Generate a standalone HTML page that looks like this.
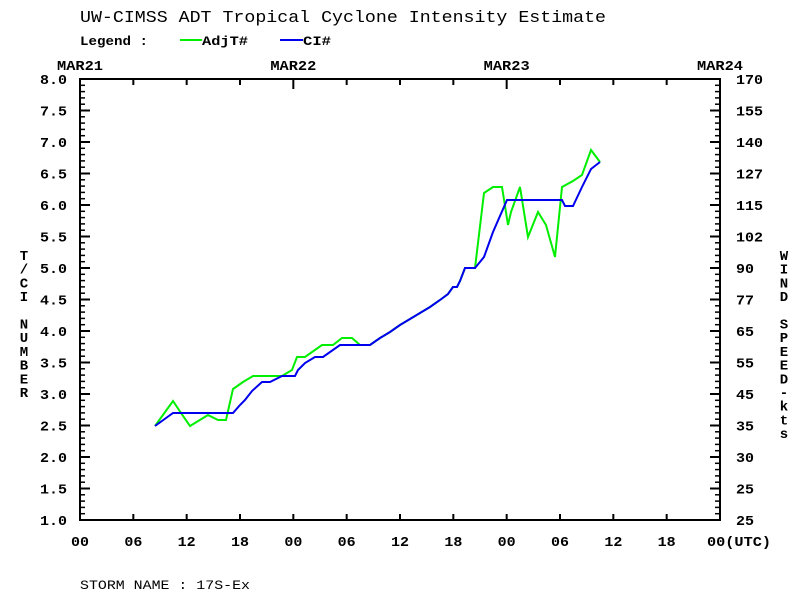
<!DOCTYPE html>
<html><head><meta charset="utf-8"><style>
html,body{margin:0;padding:0;background:#fff;width:800px;height:600px;overflow:hidden}
svg text{font-family:"Liberation Mono","DejaVu Sans Mono",monospace;fill:#000}
#lab text{font-weight:bold}
</style></head><body>
<svg id="s" width="800" height="600" viewBox="0 0 800 600" xmlns="http://www.w3.org/2000/svg">
<rect width="800" height="600" fill="#fff"/>
<text x="80" y="22" font-size="17" textLength="526" lengthAdjust="spacingAndGlyphs">UW-CIMSS ADT Tropical Cyclone Intensity Estimate</text>
<text x="80" y="45" font-size="13" font-weight="bold" textLength="68" lengthAdjust="spacingAndGlyphs">Legend :</text>
<line x1="180" y1="40" x2="202" y2="40" stroke="#00ee00" stroke-width="2"/>
<text x="202" y="45" font-size="13" font-weight="bold" textLength="46" lengthAdjust="spacingAndGlyphs">AdjT#</text>
<line x1="280" y1="40" x2="303" y2="40" stroke="#0000ee" stroke-width="2"/>
<text x="303" y="45" font-size="13" font-weight="bold" textLength="28" lengthAdjust="spacingAndGlyphs">CI#</text>
<text x="80" y="589" font-size="13" textLength="170" lengthAdjust="spacingAndGlyphs">STORM NAME : 17S-Ex</text>
<g id="ax" stroke="#000" stroke-width="2" fill="none"></g>
<g id="lab" font-size="14"></g>
<polyline fill="none" stroke="#00ee00" stroke-width="2" points="155,426 173,401 181,413 190,426 208,415 218,420 226,420 233,389 243,382 253,376 262,376 282,376 292,370 297,357 305,357 322,345 333,345 342,338 352,338 360,345 370,345 380,338 390,332 400,325 410,319 420,313 430,307 440,300 448,294 453,287 457,287 460,281 465,268 475,268 484,193 493,187 502,187 508,225 511,212 520,187 528,237 538,212 546,225 555,257 562,187 573,181 582,175 591,150 600,162"/>
<polyline fill="none" stroke="#0000ee" stroke-width="2" points="155,426 173,413 233,413 240,405 245,400 252,391 262,382 270,382 282,376 295,376 298,370 305,363 315,357 323,357 340,345 370,345 380,338 390,332 400,325 410,319 420,313 430,307 440,300 448,294 453,287 457,287 460,281 465,268 475,268 484,257 493,232 507,200 562,200 565,206 573,206 582,187 591,169 600,162"/>
</svg>
<script>
var NS="http://www.w3.org/2000/svg",ax=document.getElementById('ax'),lab=document.getElementById('lab');
function L(a,b,c,d,w){var e=document.createElementNS(NS,'line');e.setAttribute('x1',a);e.setAttribute('y1',b);e.setAttribute('x2',c);e.setAttribute('y2',d);if(w)e.setAttribute('stroke-width',w);ax.appendChild(e);}
function T(x,y,s,anchor,len,sz){var e=document.createElementNS(NS,'text');e.setAttribute('x',x);e.setAttribute('y',y);if(anchor)e.setAttribute('text-anchor',anchor);if(len){e.setAttribute('textLength',len);e.setAttribute('lengthAdjust','spacingAndGlyphs');}if(sz)e.setAttribute('font-size',sz);e.textContent=s;lab.appendChild(e);}
var X0=80,X1=720,Y0=79,Y1=520;
L(X0,Y0,X1,Y0);L(X0,Y1,X1,Y1);L(X0,Y0-1,X0,Y1+1);L(X1,Y0-1,X1,Y1+1);
var rl=['25','25','30','35','45','55','65','77','90','102','115','127','140','155','170'];
for(var i=0;i<=70;i++){var y=Y1-i*6.3;var maj=i%5==0;var len=maj?10:5;L(X0,y,X0+len,y,maj?2:1.5);L(X1,y,X1-len,y,maj?2:1.5);
 if(maj){var k=i/5;var v=(1+k*0.5).toFixed(1);T(67,y+5,v,'end',27);var r=rl[k];T(736,y+5,r,null,r.length*9);}}
var hl=['00','06','12','18'];
for(var j=0;j<=12;j++){var x=X0+j*640/12;L(x,Y1,x,Y1-6,2);L(x,Y0,x,Y0+(j%4==0?10:6),2);
 var s=hl[j%4];if(j==12){T(x-13,546,'00(UTC)',null,64);}else T(x,546,s,'middle',18);
 if(j%4==0){T(x,70,'MAR2'+(1+j/4),'middle',46);}}
function V(x,y0,str,step){for(var i=0;i<str.length;i++){if(str[i]!=' ')T(x,y0+i*step,str[i],'middle',null,14);}}
V(24,260,'T/CI NUMBER',13.7);V(784,260,'WIND SPEED-kts',13.7);
</script>
</body></html>
